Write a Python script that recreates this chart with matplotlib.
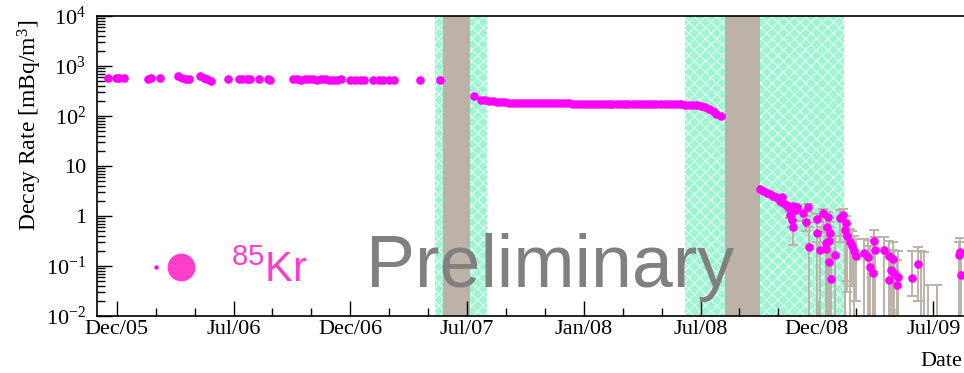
# 85Kr decay rate vs date, ROOT-style log plot with shaded periods

import matplotlib
matplotlib.use("Agg")
import matplotlib.pyplot as plt
import numpy as np
from matplotlib.legend_handler import HandlerTuple
from matplotlib.lines import Line2D
from matplotlib.ticker import NullFormatter, LogLocator

plt.rcParams["font.family"] = ["Liberation Serif", "DejaVu Serif"]
plt.rcParams["mathtext.default"] = "regular"
plt.rcParams["hatch.linewidth"] = 0.8

# ---------------------------------------------------------------------------
# Data (days counted from 2005-12-01, rates in mBq/m^3)
# ---------------------------------------------------------------------------
START = np.datetime64("2005-12-01")

p1_days = [15, 28, 33, 41, 78, 83, 97, 125, 132, 137, 142, 160, 165, 171, 177,
           203, 220, 225, 233, 238, 252, 266, 269,
           305, 311, 318, 324, 330, 336, 343, 349, 355, 361, 368, 374, 380,
           395, 403, 410, 416, 431, 440, 447, 455, 463, 505, 536]
p1_rate = [583, 583, 568, 568, 550, 568, 568, 622, 568, 550, 550, 640, 583, 550, 508,
           550, 550, 550, 550, 540, 540, 550, 532,
           540, 540, 535, 540, 545, 540, 535, 540, 540, 535, 532, 535, 540,
           532, 532, 532, 532, 532, 532, 532, 532, 532, 532, 532]

p2_days = [589, 600, 606, 612, 619, 625, 631, 637, 644, 650, 656,
           662, 669, 675, 681, 687, 694, 700, 706, 713, 719,
           725, 731, 738, 744, 750, 756, 763, 769, 775, 781,
           788, 794, 800, 806, 813, 819, 825, 831, 838, 844,
           850, 857, 863, 869, 875, 882, 888, 894, 901, 907,
           913, 919, 926, 932, 938, 944, 951, 957, 963, 969, 976]
p2_rate = [251, 210, 205, 200, 196, 193, 190, 188, 186, 185, 184,
           183, 182, 181, 180, 180, 179, 179, 179, 178, 178,
           178, 178, 178, 177, 177, 177, 177, 177, 177, 177,
           176, 176, 176, 176, 176, 176, 176, 175, 175, 175,
           175, 175, 174, 174, 174, 174, 173, 173, 172, 171,
           170, 169, 168, 166, 163, 158, 150, 138, 124, 110, 98]

p3_days = [1037, 1042, 1048, 1053, 1058, 1063, 1071, 1068, 1074, 1079, 1081, 1087,
           1089, 1095, 1084, 1087, 1089, 1092, 1105, 1113, 1110, 1114, 1126, 1127,
           1131, 1136, 1140, 1144, 1142, 1146, 1147, 1141, 1145, 1149, 1155, 1163,
           1167, 1172, 1170, 1174, 1178, 1181, 1184, 1187, 1200, 1207, 1209, 1214,
           1216, 1217, 1231, 1240, 1245, 1242, 1240, 1247, 1254, 1252, 1275, 1285,
           1351, 1349, 1353, 1289, 1294, 1300, 1314]
p3_rate = [3.42, 3.21, 2.84, 2.75, 2.51, 2.37, 2.37, 2.02, 1.79, 1.66, 1.49, 1.36,
           1.58, 1.49, 1.05, 0.83, 0.61, 1.32, 1.13, 1.49, 0.77, 0.243, 0.46, 0.86,
           0.209, 1.13, 0.216, 0.94, 0.61, 0.32, 0.45, 0.284, 0.122, 0.054, 0.166, 0.90,
           1.05, 0.71, 0.52, 0.40, 0.306, 0.251, 0.202, 0.158, 0.179, 0.149, 0.097, 0.073,
           0.32, 0.209, 0.209, 0.158, 0.136, 0.083, 0.052, 0.071, 0.061, 0.042, 0.057, 0.110,
           0.193, 0.166, 0.066, 0.005, 0.005, 0.005, 0.005]
p3_hi = [3.6, 3.4, 3.0, 2.9, 2.65, 2.5, 2.5, 2.15, 1.9, 1.77, 1.6, 1.46,
         1.7, 1.6, 1.2, 1.0, 0.85, 1.5, 1.35, 1.7, 1.0, 0.6, 0.75, 1.1,
         0.45, 1.4, 0.5, 1.2, 0.9, 0.6, 0.75, 0.55, 0.35, 0.2, 0.4, 1.3,
         1.35, 1.0, 0.8, 0.7, 0.55, 0.5, 0.4, 0.35, 0.35, 0.33, 0.25, 0.2,
         0.52, 0.38, 0.38, 0.32, 0.3, 0.2, 0.15, 0.21, 0.2, 0.13, 0.2, 0.24,
         0.36, 0.3, 0.2, 0.2, 0.19, 0.042, 0.042]
p3_lo = [3.25, 3.0, 2.7, 2.6, 2.38, 2.25, 2.25, 1.9, 1.68, 1.55, 1.38, 1.26,
         1.47, 1.38, 0.9, 0.6, 0.26, 1.1, 0.8, 1.2, 0.5, 0.001, 0.001, 0.3,
         0.001, 0.6, 0.001, 0.4, 0.001, 0.001, 0.001, 0.001, 0.001, 0.001, 0.001, 0.3,
         0.4, 0.05, 0.001, 0.03, 0.001, 0.04, 0.001, 0.02, 0.001, 0.001, 0.001, 0.001,
         0.001, 0.001, 0.001, 0.001, 0.001, 0.001, 0.001, 0.001, 0.001, 0.001, 0.025, 0.02,
         0.001, 0.001, 0.001, 0.001, 0.001, 0.001, 0.001]

# shaded periods (day ranges)
green_spans = [(528, 610), (920, 1169)]
gray_spans = [(540, 583), (982, 1038)]

xtick_dates = ["2005-12-30", "2006-07-01", "2006-12-31", "2007-07-02",
               "2008-01-01", "2008-07-02", "2008-12-31", "2009-07-02"]
xtick_labels = ["Dec/05", "Jul/06", "Dec/06", "Jul/07",
                "Jan/08", "Jul/08", "Dec/08", "Jul/09"]
ytick_vals = [1e-2, 1e-1, 1, 10, 1e2, 1e3, 1e4]
ytick_labels = ["10$^{-2}$", "10$^{-1}$", "1", "10", "10$^{2}$", "10$^{3}$", "10$^{4}$"]


def to_date(days):
    return START + np.asarray(days).astype("timedelta64[D]")


fig = plt.figure(figsize=(9.64, 3.73), dpi=100)
ax = fig.add_axes([97 / 964, 57 / 373, 867 / 964, 300 / 373])

for a, b in green_spans:
    ax.axvspan(to_date(a), to_date(b), facecolor="#9cf7d0", edgecolor="#e8fff4",
               hatch="xxx", linewidth=0, zorder=1)
for a, b in gray_spans:
    ax.axvspan(to_date(a), to_date(b), facecolor="#bdb2a8", linewidth=0, zorder=1.5)

rate3 = np.array(p3_rate)
yerr = [rate3 - np.array(p3_lo), np.array(p3_hi) - rate3]
ax.errorbar(to_date(p3_days), rate3, yerr=yerr, fmt="none", ecolor="#bdb2a8",
            elinewidth=1.4, capsize=3.5, capthick=1.4, zorder=2)

for d, r in [(p1_days, p1_rate), (p2_days, p2_rate), (p3_days, p3_rate)]:
    ax.plot(to_date(d), r, "o", color="#ff00ff", ms=6.2, mec="none", zorder=3)

ax.set_yscale("log")
ax.set_ylim(1e-2, 1e4)
ax.set_xlim(to_date(-2), to_date(1357))

ax.set_yticks(ytick_vals, ytick_labels)
ax.yaxis.set_minor_locator(LogLocator(base=10, subs=np.arange(2, 10)))
ax.yaxis.set_minor_formatter(NullFormatter())

xt = np.array(xtick_dates, dtype="datetime64[D]")
ax.set_xticks(xt, xtick_labels)
step = np.diff(xt).astype(float)
minor = np.concatenate([xt[:-1] + (step / 3).astype("timedelta64[D]"),
                        xt[:-1] + (2 * step / 3).astype("timedelta64[D]")])
ax.set_xticks(minor, minor=True)

ax.tick_params(which="both", direction="in", top=False, right=False,
               labelsize=16, width=1)
ax.tick_params(which="major", length=11)
ax.tick_params(which="minor", length=6)
ax.tick_params(axis="x", pad=3)
ax.tick_params(axis="y", pad=8)

ax.spines["right"].set_visible(False)
for s in ["left", "bottom", "top"]:
    ax.spines[s].set_linewidth(1.2)
    ax.spines[s].set_zorder(5)

ax.set_ylabel("Decay Rate [mBq/m$^{3}$]", fontsize=17)
ax.yaxis.set_label_coords(-0.061, 0.637)

fig.text(962 / 964, (373 - 366) / 373, "Date", ha="right", va="baseline",
         fontsize=16)

fig.text(366 / 964, (373 - 287) / 373, "Preliminary", fontsize=53,
         color="#808080", family="Liberation Sans", va="baseline")

small = Line2D([], [], marker="o", ls="", ms=3.2, color="#ff00ff", mec="none")
big = Line2D([], [], marker="o", ls="", ms=20, color="#ff3dcc", mec="none")
ax.legend([(small, big)], ["$^{85}$Kr"],
          handler_map={tuple: HandlerTuple(ndivide=None, pad=-0.4)},
          loc="lower left", bbox_to_anchor=(0.044, 0.085), frameon=False,
          prop={"family": "Liberation Sans", "size": 30}, labelcolor="#ff3dcc",
          handlelength=1.6, handletextpad=0.7, borderpad=0, borderaxespad=0)

fig.savefig("out.png", dpi=100)
